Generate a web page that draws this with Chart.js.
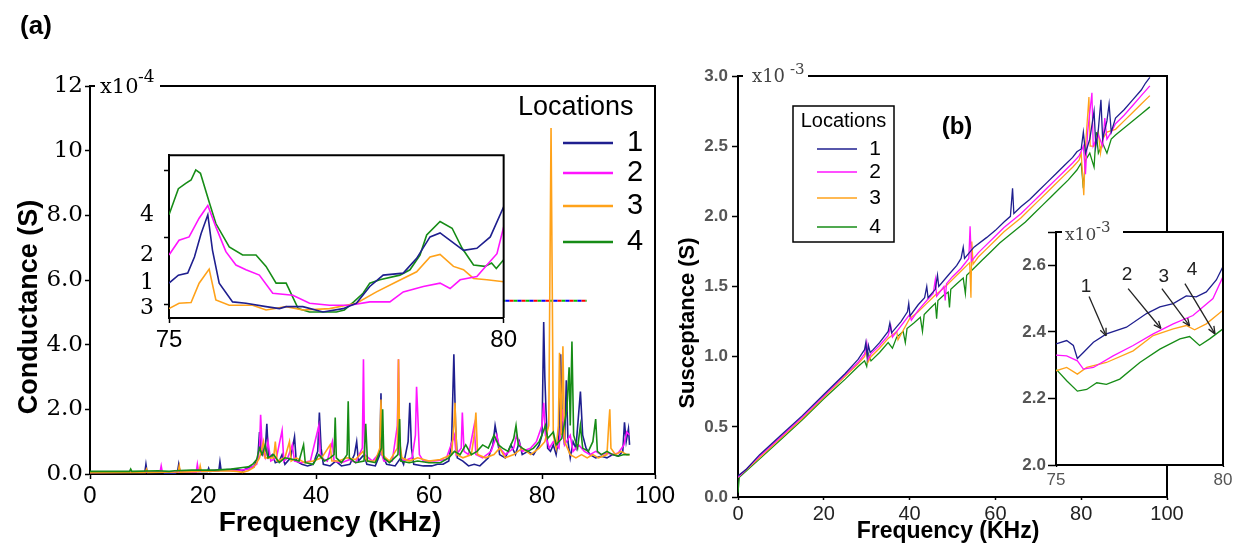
<!DOCTYPE html>
<html>
<head>
<meta charset="utf-8">
<title>Conductance and susceptance vs frequency</title>
<script src="https://cdn.jsdelivr.net/npm/chart.js@4.4.1/dist/chart.umd.min.js"></script>
<style>
  html, body { margin: 0; padding: 0; background: #fff; }
  #figure { position: relative; width: 1239px; height: 544px; overflow: hidden; }
  #figure canvas { position: absolute; }
</style>
</head>
<body>
<div id="figure">
  <canvas id="condMain" width="680" height="544" style="left:0;top:0;width:680px;height:544px"></canvas>
  <canvas id="suscMain" width="579" height="544" style="left:660px;top:0;width:579px;height:544px"></canvas>
  <canvas id="condInset" width="420" height="220" style="left:100px;top:140px;width:420px;height:220px"></canvas>
  <canvas id="suscInset" width="239" height="300" style="left:1000px;top:200px;width:239px;height:300px"></canvas>
</div>
<script>
const LOCATIONS = ['1', '2', '3', '4'];
const COLORS = ['#1f1f8f', '#ff14ff', '#ffa21a', '#168c16'];

// (a) conductance, x10^-4 S against frequency in KHz
const condLoc1 = [[0,0.05],[5,0.05],[9.7,0.05],[9.9,0.3],[10.1,0.05],[13,0.05],[13.3,0.01],[15,0.01],[15.5,0.08],[15.7,0.3],[15.9,0.08],[20.8,0.08],[21,0.18],[21.2,0.08],[22.8,0.1],[23,0.38],[23.2,0.12],[26,0.15],[27,0.1],[28,0.2],[29,0.22],[29.7,0.5],[30,1.3],[30.3,0.6],[31,0.7],[31.3,1.55],[31.6,0.5],[32.3,0.6],[32.8,0.35],[33.5,0.4],[34,0.6],[34.5,0.3],[35.5,0.5],[36.2,1.15],[36.5,0.4],[37.5,0.3],[38.5,0.25],[39.5,0.3],[40.3,0.7],[40.6,1.9],[40.9,0.8],[41.3,0.3],[42.5,0.25],[43.5,0.4],[44.5,0.25],[46,0.3],[46.8,0.6],[47.2,1.0],[47.5,0.4],[48.5,0.6],[49,0.3],[50.5,0.25],[51.3,0.6],[51.5,2.5],[51.7,0.6],[52.5,0.3],[54,0.25],[55,0.5],[55.5,0.3],[56.3,1.0],[56.6,2.2],[56.9,0.8],[57.3,0.3],[59,0.25],[60.5,0.25],[61.5,0.3],[62.5,0.3],[63.5,0.4],[64,1.0],[64.4,3.7],[64.7,1.5],[65,0.5],[66,0.4],[67,0.25],[68,0.3],[69,0.25],[70.5,0.5],[71.3,0.9],[71.7,1.5],[72,1.2],[72.5,0.6],[73.5,0.5],[74.5,0.9],[75.3,0.6],[76,1.0],[76.5,0.6],[77.5,0.7],[78.5,0.6],[79.5,0.9],[80,1.2],[80.3,4.7],[80.5,3.0],[80.7,2.0],[81,0.8],[81.5,0.7],[82,0.9],[82.5,0.6],[83,1.2],[83.3,3.7],[83.6,1.5],[84,0.9],[84.3,2.9],[84.6,1.0],[85,0.5],[85.5,1.0],[86,0.8],[86.8,2.55],[87.2,1.2],[87.8,0.8],[88.5,0.6],[89.5,0.5],[90.5,0.55],[91.5,0.5],[92.5,0.6],[93.5,0.55],[94.3,0.7],[94.6,1.6],[94.9,1.0],[95.3,1.4],[95.5,0.9]];
const condLoc2 = [[0,0.05],[12.4,0.06],[12.6,0.25],[12.8,0.06],[18.8,0.06],[19,0.3],[19.2,0.08],[23,0.12],[26,0.1],[28,0.15],[29.5,0.3],[30,0.8],[30.2,1.83],[30.5,0.7],[31,0.5],[31.5,1.0],[32,0.4],[33,0.5],[34,1.35],[34.3,0.4],[35,0.5],[35.8,0.9],[36.2,0.4],[37.5,0.35],[39,0.4],[40.5,1.5],[40.8,0.5],[42,0.4],[42.9,1.0],[43.2,0.4],[44.5,0.35],[46,0.45],[47,0.35],[48.2,0.8],[48.4,3.55],[48.6,0.6],[50,0.4],[51.5,0.7],[52,0.4],[53.5,0.4],[54.4,1.5],[54.6,3.55],[54.8,0.6],[55.5,0.4],[57,0.5],[57.6,1.2],[57.8,2.7],[58,1.9],[58.3,0.6],[59,0.4],[61,0.4],[63,0.45],[64.5,1.2],[64.8,0.6],[65.7,0.8],[65.9,1.9],[66.2,0.7],[67,0.6],[68,1.5],[68.3,0.6],[69.5,0.5],[71,0.7],[72,1.2],[72.5,0.8],[73.5,0.6],[75,0.8],[75.5,1.2],[76.5,0.7],[78,0.8],[79,1.0],[80,1.5],[80.3,2.2],[80.6,1.2],[81.3,0.8],[82,1.0],[83,0.8],[83.6,2.0],[84,0.9],[85,1.2],[85.5,0.7],[86.5,0.9],[87.5,0.7],[88.5,0.6],[89.5,0.7],[90.5,0.6],[91.5,0.65],[92.5,0.6],[93.5,0.65],[94.5,0.9],[95,1.3],[95.5,1.2]];
const condLoc3 = [[0,0.04],[9.8,0.05],[10,0.15],[10.2,0.05],[15.6,0.06],[15.8,0.25],[16,0.06],[19.3,0.08],[19.5,0.25],[19.7,0.08],[24,0.1],[26,0.08],[27,0.05],[28,0.1],[29,0.2],[30,0.5],[30.7,1.0],[31,0.5],[32.5,0.5],[32.8,1.0],[33.1,0.4],[34.5,0.5],[35.3,1.0],[35.6,0.4],[36.5,0.5],[38,0.35],[39.5,0.4],[41,0.5],[42.5,0.9],[42.8,0.4],[44,0.4],[45.5,0.5],[47,0.45],[48.3,0.7],[49,0.4],[50.5,0.4],[51.3,0.8],[51.5,2.3],[51.7,0.6],[53,0.4],[54.4,0.8],[54.6,3.55],[54.8,1.0],[55.2,0.5],[56.5,0.4],[58,0.5],[60,0.4],[62,0.45],[64,0.6],[64.4,1.5],[64.6,2.2],[64.9,0.6],[66,0.5],[67.5,0.6],[68,1.2],[68.3,1.9],[68.6,0.6],[70,0.5],[71.5,0.6],[72.5,0.8],[73.5,0.5],[75,0.6],[76.5,0.8],[78,0.6],[79.5,0.8],[80.5,1.0],[81.2,1.5],[81.4,6.1],[81.6,10.7],[81.8,6.1],[82,1.2],[82.5,0.8],[82.9,1.5],[83.1,3.75],[83.4,1.2],[83.7,3.95],[84,1.0],[84.5,0.8],[85,0.6],[86,0.5],[87,0.6],[88,0.5],[89,0.6],[90,0.5],[91.5,0.6],[91.8,1.5],[92,2.0],[92.2,0.8],[93,0.6],[94,0.7],[95,0.6],[95.5,0.6]];
const condLoc4 = [[0,0.08],[7,0.08],[7.2,0.15],[7.4,0.08],[12,0.1],[14,0.08],[15,0.1],[18,0.12],[22,0.12],[25,0.15],[27,0.2],[28,0.22],[28.8,0.3],[29.5,0.45],[30,0.8],[30.5,0.6],[31,0.9],[31.5,0.5],[32.5,0.6],[33.5,0.35],[34.5,0.5],[36,0.45],[37,0.4],[37.8,0.9],[38.1,0.35],[39.5,0.3],[40.5,0.6],[41.5,0.4],[42.5,0.5],[43.2,0.6],[43.4,1.75],[43.6,0.5],[44.5,0.35],[45.5,0.6],[45.7,2.25],[45.9,0.5],[47,0.35],[48.5,0.4],[48.8,1.55],[49.1,0.4],[50.5,0.35],[51.6,0.8],[51.8,2.0],[52,0.5],[53,0.35],[54.5,0.6],[54.8,1.7],[55,0.4],[56.5,0.35],[58,0.4],[60,0.35],[62,0.35],[63.5,0.5],[64.5,0.7],[65.5,0.6],[66.5,0.9],[67.5,0.6],[68.5,0.7],[69.5,0.9],[70.5,0.8],[71.5,1.2],[72.3,0.9],[73,0.8],[74,0.7],[75,1.1],[75.4,1.5],[75.8,0.9],[76.5,0.8],[77.5,0.7],[78.5,0.8],[79.5,1.0],[80.2,1.3],[80.6,1.5],[81,1.1],[82,1.3],[82.5,0.9],[83.5,1.1],[84,1.6],[84.4,2.0],[84.8,3.3],[85,1.5],[85.3,4.1],[85.6,1.2],[86.3,0.8],[86.8,1.5],[87.2,0.8],[88.2,0.7],[89,1.0],[89.5,1.7],[89.8,0.7],[90.5,0.6],[91.5,0.7],[92.5,0.6],[93.5,0.55],[94.5,0.6],[95.5,0.6]];
const condMarker = [[71.4,5.36],[87.9,5.36]];
const condTicksX = [0, 20, 40, 60, 80, 100];
const condTicksY = [0, 2, 4, 6, 8, 10, 12];

// (a) inset, 75-80 KHz
const condInset1 = [[75,1.32],[75.14,1.44],[75.28,1.47],[75.38,1.71],[75.48,2.06],[75.58,2.34],[75.65,1.81],[75.75,1.32],[75.95,1.04],[76.15,1.02],[76.45,0.97],[76.65,0.94],[76.75,0.97],[77,0.97],[77.3,0.89],[77.6,0.94],[77.8,1.02],[78,1.27],[78.2,1.44],[78.5,1.47],[78.7,1.69],[78.9,2.01],[79.05,2.07],[79.2,1.96],[79.4,1.81],[79.6,1.84],[79.8,2.01],[80,2.46]];
const condInset2 = [[75,1.74],[75.15,1.96],[75.3,2.01],[75.45,2.29],[75.58,2.48],[75.7,2.16],[75.85,1.79],[76,1.59],[76.15,1.52],[76.35,1.44],[76.55,1.17],[76.85,1.14],[77.1,1.02],[77.4,0.99],[77.7,0.99],[78,1.04],[78.3,1.04],[78.5,1.19],[78.8,1.27],[79.05,1.32],[79.2,1.24],[79.35,1.37],[79.6,1.42],[79.75,1.59],[79.9,1.76],[80,2.16]];
const condInset3 = [[75,0.94],[75.15,1.02],[75.33,1.03],[75.45,1.32],[75.6,1.53],[75.7,1.07],[75.9,0.99],[76.25,0.99],[76.45,0.92],[76.75,0.97],[77,0.92],[77.4,0.94],[77.8,1.02],[78.1,1.19],[78.4,1.34],[78.7,1.49],[78.9,1.71],[79.05,1.75],[79.25,1.57],[79.4,1.52],[79.55,1.39],[79.75,1.37],[80,1.34]];
const condInset4 = [[75,2.34],[75.14,2.73],[75.25,2.81],[75.33,2.86],[75.4,3.01],[75.47,2.96],[75.6,2.53],[75.7,2.21],[75.9,1.86],[76.1,1.74],[76.3,1.74],[76.45,1.57],[76.6,1.32],[76.75,1.32],[76.93,0.94],[77.1,0.89],[77.5,0.89],[77.62,0.92],[77.76,1.04],[77.9,1.17],[78,1.32],[78.15,1.37],[78.45,1.44],[78.6,1.52],[78.75,1.74],[78.85,2.04],[79.05,2.24],[79.23,2.14],[79.38,1.84],[79.55,1.59],[79.72,1.57],[79.82,1.62],[79.89,1.54],[80,1.67]];
const condInsetTicksX = [75, 80];
const condInsetTicksY = [1, 2, 3];

// (b) susceptance, x10^-3 S against frequency in KHz
const suscLoc1 = [[0,0.15],[2,0.2],[5,0.3],[10,0.44],[15,0.58],[20,0.73],[25,0.88],[28,0.98],[29.5,1.05],[29.8,1.1],[30.1,1.0],[30.4,1.08],[30.8,1.03],[31.5,1.05],[33,1.1],[35,1.18],[35.4,1.24],[35.8,1.17],[38,1.25],[39.5,1.32],[39.8,1.38],[40.1,1.29],[42,1.37],[43.5,1.42],[44,1.5],[44.3,1.42],[46,1.48],[46.5,1.58],[46.8,1.5],[49,1.58],[51,1.65],[52,1.7],[52.5,1.78],[52.8,1.7],[55,1.78],[58,1.85],[60,1.9],[62,1.96],[63.5,2.0],[64,2.2],[64.3,2.02],[66,2.07],[68,2.12],[70,2.18],[72,2.24],[74,2.3],[76,2.36],[78,2.42],[79,2.46],[80,2.48],[80.5,2.6],[81,2.45],[82,2.55],[83,2.75],[83.4,2.5],[84,2.62],[84.6,2.83],[85,2.55],[86,2.68],[86.5,2.8],[87,2.6],[88,2.7],[90,2.76],[92,2.83],[94,2.9],[95,2.95],[96,2.99]];
const suscLoc2 = [[0,0.14],[5,0.29],[10,0.43],[15,0.57],[20,0.72],[25,0.87],[28,0.96],[29.5,1.02],[30,1.1],[30.3,0.98],[31,1.02],[33,1.08],[35,1.15],[35.6,1.22],[36,1.14],[38,1.22],[40,1.3],[40.4,1.26],[42,1.33],[44,1.4],[45.5,1.45],[46,1.55],[46.3,1.43],[48,1.5],[48.3,1.4],[48.6,1.52],[50,1.57],[52,1.63],[53.8,1.7],[54.1,1.93],[54.4,1.68],[56,1.74],[58,1.8],[60,1.86],[62,1.92],[64,1.97],[66,2.02],[68,2.08],[70,2.14],[72,2.2],[74,2.26],[76,2.32],[78,2.38],[79.5,2.43],[80.5,2.5],[81,2.3],[81.5,2.6],[82.5,2.88],[82.8,2.5],[84,2.58],[85,2.5],[85.5,2.7],[86,2.55],[87,2.6],[88,2.66],[90,2.72],[92,2.79],[94,2.86],[96,2.93]];
const suscLoc3 = [[0,0.14],[5,0.28],[10,0.42],[15,0.56],[20,0.71],[25,0.86],[28,0.95],[29.5,1.0],[30,1.05],[30.3,0.96],[31,1.0],[33,1.06],[35,1.13],[37,1.18],[37.3,1.12],[40,1.27],[42,1.32],[44,1.38],[46,1.44],[48,1.49],[50,1.55],[52,1.61],[54,1.67],[54.3,1.42],[54.5,1.82],[54.8,1.66],[56,1.71],[58,1.77],[60,1.83],[62,1.89],[64,1.94],[66,1.99],[68,2.05],[70,2.11],[72,2.17],[74,2.23],[76,2.29],[78,2.35],[79.5,2.4],[80,2.45],[80.6,2.15],[81,2.5],[81.8,2.85],[82.1,2.5],[83,2.5],[84,2.6],[84.5,2.45],[85,2.55],[86,2.6],[88,2.62],[90,2.68],[92,2.74],[94,2.8],[96,2.86]];
const suscLoc4 = [[0,0.03],[0.3,0.14],[5,0.27],[10,0.41],[15,0.55],[20,0.7],[25,0.84],[28,0.93],[29.5,0.97],[30,0.93],[30.4,1.02],[31,0.97],[33,1.03],[35,1.1],[36,1.06],[37,1.14],[38.5,1.18],[39,1.1],[39.4,1.2],[41,1.24],[42.5,1.28],[43,1.18],[43.4,1.3],[45,1.35],[46,1.38],[46.3,1.27],[46.6,1.4],[48,1.44],[49,1.46],[49.3,1.35],[49.6,1.48],[51,1.52],[52.5,1.56],[53,1.45],[53.3,1.58],[55,1.63],[57,1.69],[59,1.75],[61,1.81],[63,1.86],[65,1.91],[67,1.96],[69,2.02],[71,2.08],[73,2.14],[75,2.2],[77,2.26],[79,2.33],[80,2.38],[80.5,2.2],[81,2.4],[82,2.45],[83,2.35],[83.5,2.6],[84,2.45],[85,2.52],[86,2.45],[87,2.55],[88,2.58],[90,2.63],[92,2.68],[94,2.73],[96,2.78]];
const suscTicksX = [0, 20, 40, 60, 80, 100];
const suscTicksY = [0, 0.5, 1, 1.5, 2, 2.5, 3];

// (b) inset, 75-80 KHz
const suscInset1 = [[75,2.364],[75.32,2.374],[75.52,2.359],[75.64,2.32],[75.82,2.338],[76.12,2.369],[76.51,2.394],[77.11,2.414],[77.71,2.455],[78.11,2.475],[78.51,2.485],[78.9,2.508],[79.2,2.505],[79.5,2.52],[79.8,2.556],[80,2.596]];
const suscInset2 = [[75,2.33],[75.32,2.328],[75.64,2.313],[75.82,2.288],[76.12,2.293],[76.71,2.328],[77.31,2.359],[77.91,2.394],[78.51,2.424],[79.1,2.449],[79.7,2.5],[80,2.566]];
const suscInset3 = [[75,2.283],[75.32,2.293],[75.64,2.273],[75.92,2.293],[76.51,2.308],[77.31,2.343],[77.91,2.389],[78.51,2.409],[78.9,2.419],[79.15,2.406],[79.5,2.424],[80,2.465]];
const suscInset4 = [[75,2.288],[75.32,2.253],[75.64,2.222],[75.92,2.227],[76.22,2.247],[76.51,2.242],[76.91,2.258],[77.51,2.308],[78.11,2.348],[78.71,2.379],[79,2.386],[79.3,2.359],[79.6,2.379],[80,2.409]];
const suscInsetTicksX = [75, 80];
const suscInsetTicksY = [2.0, 2.2, 2.4, 2.6, 2.7];
const arrowText = [[75.9,2.536],[77.13,2.573],[78.23,2.567],[79.07,2.588]];
const arrowTail = [[75.99,2.506],[77.16,2.53],[78.17,2.53],[78.86,2.545]];
const arrowHead = [[76.5,2.388],[78.14,2.41],[79.0,2.418],[79.76,2.394]];

const SANS = "'Liberation Sans', Arial, sans-serif";
const SERIF = "'DejaVu Serif', 'Liberation Serif', serif";

const toPoints = arr => arr.map(([x, y]) => ({ x, y }));

function drawText(ctx, t) {
  ctx.save();
  ctx.font = t.font;
  ctx.fillStyle = t.color || '#000';
  ctx.textAlign = t.align || 'center';
  ctx.textBaseline = 'middle';
  ctx.translate(t.x, t.y);
  if (t.rot) ctx.rotate(t.rot);
  ctx.fillText(t.t, 0, 0);
  ctx.restore();
}

// frame, labels, legend and arrows that Chart.js has no option for
const decor = {
  id: 'decor',
  beforeDraw(chart, args, o) {
    if (!o.fill) return;
    const { ctx, chartArea: a } = chart;
    ctx.save();
    ctx.fillStyle = '#fff';
    ctx.fillRect(a.left, a.top, a.right - a.left, a.bottom - a.top);
    ctx.restore();
  },
  afterDraw(chart, args, o) {
    const { ctx, chartArea: a } = chart;
    const xs = chart.scales.x, ys = chart.scales.y;
    ctx.save();
    ctx.strokeStyle = '#000';
    ctx.lineWidth = 2;
    ctx.beginPath();
    ctx.moveTo(a.left + o.topStart, a.top);
    ctx.lineTo(a.right, a.top);
    ctx.lineTo(a.right, a.bottom);
    if (o.stub) { ctx.moveTo(a.left, a.top); ctx.lineTo(a.left + o.stub, a.top); }
    ctx.stroke();
    ctx.restore();

    (o.texts || []).forEach(t => drawText(ctx, t));

    if (o.legend) {
      const L = o.legend;
      ctx.save();
      if (L.box) {
        ctx.strokeStyle = '#000';
        ctx.lineWidth = 1.5;
        ctx.strokeRect(L.box[0], L.box[1], L.box[2] - L.box[0], L.box[3] - L.box[1]);
      }
      drawText(ctx, { t: L.title, x: L.titleX, y: L.titleY, font: L.titleFont, align: L.titleAlign || 'left' });
      LOCATIONS.forEach((name, i) => {
        ctx.strokeStyle = COLORS[i];
        ctx.lineWidth = L.lineWidth;
        ctx.beginPath();
        ctx.moveTo(L.x1, L.ys[i]);
        ctx.lineTo(L.x2, L.ys[i]);
        ctx.stroke();
        drawText(ctx, { t: name, x: L.numX, y: L.ys[i], font: L.numFont });
      });
      ctx.restore();
    }

    if (o.curveLabels) {
      LOCATIONS.forEach((name, i) => {
        const y = ys.getPixelForValue(chart.data.datasets[i].data[0].y);
        drawText(ctx, { t: name, x: a.left + o.curveLabels.dx, y, font: o.curveLabels.font });
      });
    }

    if (o.arrows) {
      const A = o.arrows;
      ctx.save();
      ctx.strokeStyle = '#222';
      ctx.fillStyle = '#222';
      ctx.lineWidth = 1.3;
      A.labels.forEach((name, i) => {
        const x0 = xs.getPixelForValue(A.tail[i][0]), y0 = ys.getPixelForValue(A.tail[i][1]);
        const x1 = xs.getPixelForValue(A.head[i][0]), y1 = ys.getPixelForValue(A.head[i][1]);
        const ang = Math.atan2(y1 - y0, x1 - x0);
        ctx.beginPath();
        ctx.moveTo(x0, y0);
        ctx.lineTo(x1, y1);
        ctx.stroke();
        ctx.beginPath();
        ctx.moveTo(x1, y1);
        ctx.lineTo(x1 - 8 * Math.cos(ang - 0.4), y1 - 8 * Math.sin(ang - 0.4));
        ctx.moveTo(x1, y1);
        ctx.lineTo(x1 - 8 * Math.cos(ang + 0.4), y1 - 8 * Math.sin(ang + 0.4));
        ctx.stroke();
        drawText(ctx, { t: name, x: xs.getPixelForValue(A.text[i][0]), y: ys.getPixelForValue(A.text[i][1]), font: A.font, color: '#222' });
      });
      ctx.restore();
    }
  }
};

function axis(c) {
  return {
    type: 'linear',
    min: c.min,
    max: c.max,
    afterFit: s => { if (s.isHorizontal()) s.height = c.size; else s.width = c.size; },
    afterBuildTicks: s => { s.ticks = c.ticks.map(v => ({ value: v })); },
    ticks: {
      autoSkip: false, maxRotation: 0, padding: c.pad, color: c.color || '#000',
      font: c.font, callback: c.fmt || (v => String(v))
    },
    grid: { display: true, drawOnChartArea: false, drawTicks: true, tickLength: c.tick, tickWidth: 1.5, tickColor: '#000' },
    border: { display: true, color: '#000', width: 2 }
  };
}

function lineSets(series, width, order) {
  return series.map((s, i) => ({
    label: LOCATIONS[i], data: toPoints(s), borderColor: COLORS[i],
    borderWidth: width, order: order ? order[i] : 0
  }));
}

function makeChart(id, datasets, padding, scales, decorOpts) {
  return new Chart(document.getElementById(id), {
    type: 'line',
    data: { datasets },
    options: {
      responsive: false, animation: false, events: [],
      layout: { padding, autoPadding: false },
      elements: { point: { radius: 0 }, line: { tension: 0 } },
      plugins: { legend: { display: false }, tooltip: { enabled: false }, decor: decorOpts },
      scales
    },
    plugins: [decor]
  });
}

// (a) main
const markerSets = ['#0000ff', '#ff0000', '#00c000'].map((c, i) => ({
  data: toPoints(condMarker), borderColor: c, borderWidth: 2,
  borderDash: [4, 8], borderDashOffset: -4 * i, order: 10
}));
makeChart('condMain',
  lineSets([condLoc1, condLoc2, condLoc3, condLoc4], 1.6, [3, 2, 1, 0]).concat(markerSets),
  { top: 86, right: 25, left: 0, bottom: 0 },
  {
    x: axis({ min: 0, max: 100, ticks: condTicksX, size: 70, tick: 5, pad: 3, font: { family: SANS, size: 24 } }),
    y: axis({ min: 0, max: 12, ticks: condTicksY, size: 90, tick: 5, pad: 2, font: { family: SERIF, size: 23 },
      fmt: v => (v >= 10 ? String(v) : v.toFixed(1)) })
  },
  {
    topStart: 70, stub: 5,
    texts: [
      { t: '(a)', x: 36, y: 27, font: 'bold 26px ' + SANS },
      { t: 'x10', x: 100, y: 88, font: '21px ' + SERIF, align: 'left' },
      { t: '-4', x: 138, y: 78, font: '17px ' + SERIF, align: 'left' },
      { t: 'Conductance (S)', x: 30, y: 307, font: 'bold 27px ' + SANS, rot: -Math.PI / 2 },
      { t: 'Frequency (KHz)', x: 330, y: 523, font: 'bold 28px ' + SANS }
    ],
    legend: { title: 'Locations', titleX: 518, titleY: 108, titleFont: '27px ' + SANS,
      x1: 563, x2: 613, ys: [143, 173, 206, 242], numX: 635, numFont: '29px ' + SANS, lineWidth: 2.5 }
  });

// (a) inset
makeChart('condInset',
  lineSets([condInset1, condInset2, condInset3, condInset4], 1.6),
  { top: 15, right: 11, left: 0, bottom: 0 },
  {
    x: axis({ min: 75, max: 80, ticks: condInsetTicksX, size: 42, tick: 5, pad: 3, font: { family: SANS, size: 24 } }),
    y: axis({ min: 0.8, max: 3.23, ticks: condInsetTicksY, size: 69, tick: 5, pad: 2, font: { family: SERIF, size: 22 }, fmt: () => '' })
  },
  { fill: true, topStart: 0, curveLabels: { dx: -22, font: '22px ' + SERIF } });

// (b) main
makeChart('suscMain',
  lineSets([suscLoc1, suscLoc2, suscLoc3, suscLoc4], 1.3, [0, 1, 2, 3]),
  { top: 76, right: 72, left: 0, bottom: 0 },
  {
    x: axis({ min: 0, max: 100, ticks: suscTicksX, size: 47, tick: 3, pad: 2, color: '#222', font: { family: SANS, size: 20 } }),
    y: axis({ min: 0, max: 3, ticks: suscTicksY, size: 78, tick: 6, pad: 4, color: '#555',
      font: { family: SANS, size: 17, weight: 'bold' }, fmt: v => v.toFixed(1) })
  },
  {
    topStart: 70, stub: 5,
    texts: [
      { t: 'x10', x: 92, y: 77, font: '18px ' + SERIF, align: 'left', color: '#444' },
      { t: '-3', x: 130, y: 70, font: '15px ' + SERIF, align: 'left', color: '#444' },
      { t: '(b)', x: 297, y: 127, font: 'bold 24px ' + SANS },
      { t: 'Susceptance (S)', x: 28, y: 323, font: 'bold 22px ' + SANS, rot: -Math.PI / 2 },
      { t: 'Frequency (KHz)', x: 288, y: 532, font: 'bold 23px ' + SANS }
    ],
    legend: { box: [133, 106, 234, 242], title: 'Locations', titleX: 183.5, titleAlign: 'center', titleY: 121,
      titleFont: '20px ' + SANS, x1: 157, x2: 197, ys: [149, 172, 198, 227], numX: 215, numFont: '21px ' + SANS, lineWidth: 1.5 }
  });

// (b) inset
makeChart('suscInset',
  lineSets([suscInset1, suscInset2, suscInset3, suscInset4], 1.3),
  { top: 32, right: 16, left: 0, bottom: 0 },
  {
    x: axis({ min: 75, max: 80, ticks: suscInsetTicksX, size: 35, tick: 2, pad: 3, color: '#555', font: { family: SANS, size: 17 } }),
    y: axis({ min: 2.0, max: 2.7, ticks: suscInsetTicksY, size: 56, tick: 8, pad: 2, color: '#555',
      font: { family: SANS, size: 17, weight: 'bold' }, fmt: v => (v > 2.65 ? '' : v.toFixed(1)) })
  },
  {
    fill: true, topStart: 67, stub: 6,
    texts: [
      { t: 'x10', x: 65, y: 36, font: '17px ' + SERIF, align: 'left', color: '#444' },
      { t: '-3', x: 96, y: 28, font: '15px ' + SERIF, align: 'left', color: '#444' }
    ],
    arrows: { labels: LOCATIONS, text: arrowText, tail: arrowTail, head: arrowHead, font: '19px ' + SANS }
  });
</script>
</body>
</html>
